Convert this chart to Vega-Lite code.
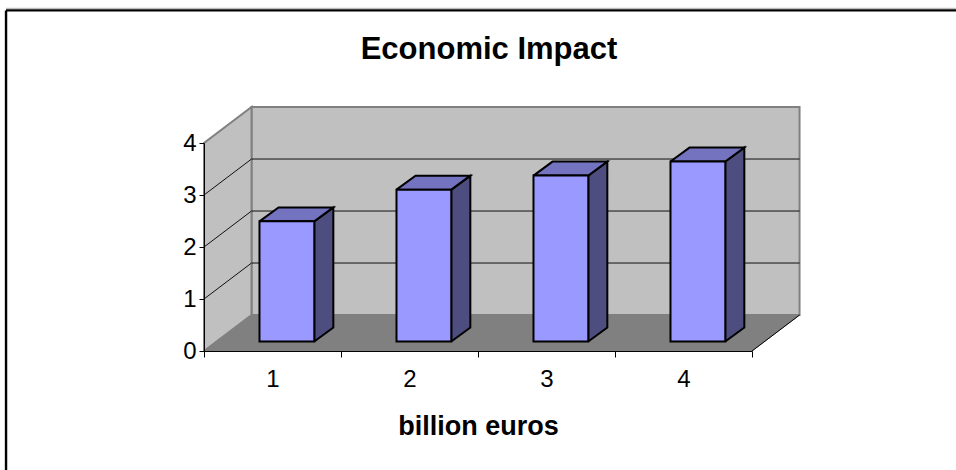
{
 "$schema":"https://vega.github.io/schema/vega-lite/v6.json",
 "width":548,"height":208,
 "padding":{"left":204,"top":143,"right":204,"bottom":119},
 "autosize":{"type":"none"},
 "background":"white",
 "title":{"text":"Economic Impact","font":"Liberation Sans","fontSize":31,"fontWeight":"bold","color":"black","anchor":"middle","dx":11,"offset":-58},
 "config":{"view":{"stroke":null}},
 "datasets":{
  "bars":[{"category":1,"value":2.31},{"category":2,"value":2.92},{"category":3,"value":3.19},{"category":4,"value":3.46}],
  "grid":[{"level":1},{"level":2},{"level":3}],
  "one":[{"name":"chart"}]
 },
 "encoding":{
  "x":{"type":"quantitative","scale":{"domain":[0,4],"nice":false,"zero":false}},
  "y":{"type":"quantitative","scale":{"domain":[0,4],"nice":false,"zero":false}}
 },
 "layer":[
  {"data":{"name":"one"},"mark":{"type":"rule","stroke":"black","strokeWidth":2.4},
   "encoding":{"x":{"datum":-1.445},"x2":{"datum":5.489},"y":{"datum":6.55}}},
  {"data":{"name":"one"},"mark":{"type":"rule","stroke":"#b0b0b0","strokeWidth":1},
   "encoding":{"x":{"datum":-1.445},"x2":{"datum":5.489},"y":{"datum":6.59}}},
  {"data":{"name":"one"},"mark":{"type":"rule","stroke":"black","strokeWidth":2.4},
   "encoding":{"x":{"datum":-1.445},"y":{"datum":6.55},"y2":{"datum":-2.288}}},
  {"data":{"name":"one"},"mark":{"type":"rect","fill":"#c0c0c0","stroke":"#808080","strokeWidth":2},
   "encoding":{"x":{"datum":0.347},"x2":{"datum":4.347},"y":{"datum":0.692},"y2":{"datum":4.692}}},
  {"data":{"name":"one"},
   "transform":[{"calculate":"[{k:0,x:0,y:0},{k:1,x:0,y:4},{k:2,x:0.347,y:4.692},{k:3,x:0.347,y:0.692},{k:4,x:0,y:0}]","as":"p"},{"flatten":["p"]}],
   "mark":{"type":"line","fill":"#c0c0c0","stroke":"#808080","strokeWidth":2},
   "encoding":{"x":{"field":"p.x","type":"quantitative"},"y":{"field":"p.y","type":"quantitative"},"order":{"field":"p.k","type":"quantitative"}}},
  {"data":{"name":"one"},
   "transform":[{"calculate":"[{k:0,x:0,y:0},{k:1,x:0.347,y:0.692},{k:2,x:4.347,y:0.692},{k:3,x:4,y:0},{k:4,x:0,y:0}]","as":"p"},{"flatten":["p"]}],
   "mark":{"type":"line","fill":"#808080","stroke":"#808080","strokeWidth":1},
   "encoding":{"x":{"field":"p.x","type":"quantitative"},"y":{"field":"p.y","type":"quantitative"},"order":{"field":"p.k","type":"quantitative"}}},
  {"data":{"name":"one"},"mark":{"type":"rule","stroke":"black","strokeWidth":1},
   "encoding":{"x":{"datum":4},"x2":{"datum":4.347},"y":{"datum":0},"y2":{"datum":0.692}}},
  {"data":{"name":"grid"},"transform":[{"calculate":"datum.level+0.692","as":"back"}],
   "mark":{"type":"rule","stroke":"#111111","strokeWidth":1},
   "encoding":{"x":{"datum":0.347},"x2":{"datum":4.347},"y":{"field":"back","type":"quantitative"}}},
  {"data":{"name":"grid"},"transform":[{"calculate":"datum.level+0.692","as":"back"}],
   "mark":{"type":"rule","stroke":"#111111","strokeWidth":1},
   "encoding":{"x":{"datum":0},"x2":{"datum":0.347},"y":{"field":"level","type":"quantitative"},"y2":{"field":"back"}}},
  {"data":{"name":"bars"},
   "transform":[
    {"calculate":"datum.category-1+0.805","as":"r"},
    {"calculate":"datum.value+0.183","as":"t"},
    {"calculate":"[{k:0,x:datum.r,y:0.183},{k:1,x:datum.r+0.139,y:0.452},{k:2,x:datum.r+0.139,y:datum.t+0.269},{k:3,x:datum.r,y:datum.t},{k:4,x:datum.r,y:0.183}]","as":"p"},
    {"flatten":["p"]}],
   "mark":{"type":"line","fill":"#4d4d80","stroke":"black","strokeWidth":2,"strokeJoin":"miter"},
   "encoding":{"x":{"field":"p.x","type":"quantitative"},"y":{"field":"p.y","type":"quantitative"},"detail":{"field":"category"},"order":{"field":"p.k","type":"quantitative"}}},
  {"data":{"name":"bars"},
   "transform":[
    {"calculate":"datum.category-1+0.805","as":"r"},
    {"calculate":"datum.category-1+0.405","as":"l"},
    {"calculate":"datum.value+0.183","as":"t"},
    {"calculate":"[{k:0,x:datum.l,y:datum.t},{k:1,x:datum.l+0.139,y:datum.t+0.269},{k:2,x:datum.r+0.139,y:datum.t+0.269},{k:3,x:datum.r,y:datum.t},{k:4,x:datum.l,y:datum.t}]","as":"p"},
    {"flatten":["p"]}],
   "mark":{"type":"line","fill":"#7373bf","stroke":"black","strokeWidth":2,"strokeJoin":"miter"},
   "encoding":{"x":{"field":"p.x","type":"quantitative"},"y":{"field":"p.y","type":"quantitative"},"detail":{"field":"category"},"order":{"field":"p.k","type":"quantitative"}}},
  {"data":{"name":"bars"},
   "transform":[
    {"calculate":"datum.category-1+0.805","as":"r"},
    {"calculate":"datum.category-1+0.405","as":"l"},
    {"calculate":"datum.value+0.183","as":"t"}],
   "mark":{"type":"rect","fill":"#9999ff","stroke":"black","strokeWidth":2,"strokeJoin":"miter"},
   "encoding":{"x":{"field":"l","type":"quantitative"},"x2":{"field":"r"},"y":{"field":"t","type":"quantitative"},"y2":{"datum":0.183}}},
  {"data":{"name":"one"},"mark":{"type":"rule","opacity":0},
   "encoding":{
    "x":{"datum":0,"type":"quantitative","axis":{"title":"billion euros","titleFont":"Liberation Sans","titleFontSize":27,"titleFontWeight":"bold","titleColor":"black","titlePadding":22,"values":[0,1,2,3,4],"labelExpr":"datum.value==4?'':''+(datum.value+1)","labelOffset":68.5,"labelFont":"Liberation Sans","labelFontSize":24,"labelColor":"black","labelPadding":10,"labelFlush":false,"labelOverlap":false,"tickColor":"black","tickSize":6,"domainColor":"black","grid":false,"zindex":1}},
    "y":{"datum":0,"type":"quantitative","axis":{"title":null,"values":[0,1,2,3,4],"format":"d","labelFont":"Liberation Sans","labelFontSize":24,"labelColor":"black","labelPadding":3,"tickColor":"black","tickSize":5,"domainColor":"black","grid":false,"zindex":1}}}}
 ]
}
